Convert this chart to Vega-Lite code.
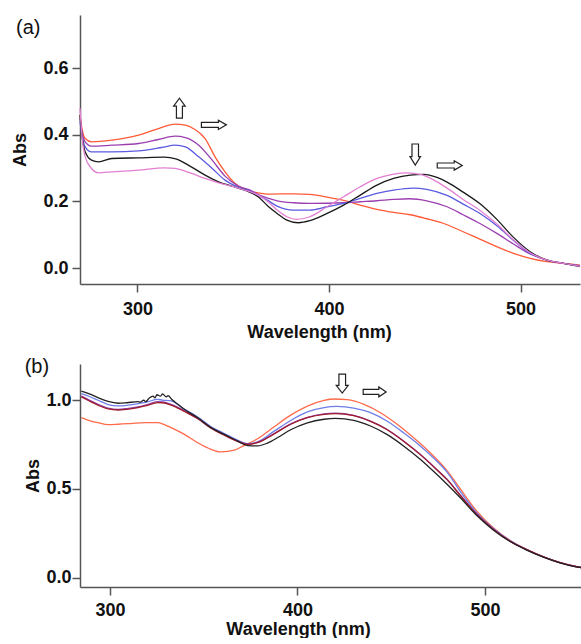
{
  "$schema": "https://vega.github.io/schema/vega-lite/v6.json",
  "background": "white",
  "padding": {"left": 11, "top": 15, "right": 0, "bottom": 0},
  "autosize": {"type": "pad"},
  "spacing": 16,
  "align": "none",
  "bounds": "full",
  "resolve": {"scale": {"x": "independent", "y": "independent", "color": "independent"}},
  "datasets": {
    "a": [
      {"series": "orange", "nm": 270, "abs": 0.46}, {"series": "orange", "nm": 271, "abs": 0.42}, {"series": "orange", "nm": 272.7, "abs": 0.389}, {"series": "orange", "nm": 276, "abs": 0.379}, {"series": "orange", "nm": 286.6, "abs": 0.384}, {"series": "orange", "nm": 300.5, "abs": 0.399}, {"series": "orange", "nm": 311, "abs": 0.419}, {"series": "orange", "nm": 319.7, "abs": 0.432}, {"series": "orange", "nm": 325, "abs": 0.429}, {"series": "orange", "nm": 330, "abs": 0.416}, {"series": "orange", "nm": 335.3, "abs": 0.389}, {"series": "orange", "nm": 340.5, "abs": 0.334}, {"series": "orange", "nm": 345.7, "abs": 0.289}, {"series": "orange", "nm": 351, "abs": 0.254}, {"series": "orange", "nm": 356, "abs": 0.236}, {"series": "orange", "nm": 363, "abs": 0.226}, {"series": "orange", "nm": 368, "abs": 0.222}, {"series": "orange", "nm": 381.5, "abs": 0.223}, {"series": "orange", "nm": 390, "abs": 0.221}, {"series": "orange", "nm": 399, "abs": 0.213}, {"series": "orange", "nm": 407.6, "abs": 0.203}, {"series": "orange", "nm": 416.3, "abs": 0.189}, {"series": "orange", "nm": 425, "abs": 0.176}, {"series": "orange", "nm": 433.7, "abs": 0.167}, {"series": "orange", "nm": 442.4, "abs": 0.16}, {"series": "orange", "nm": 451, "abs": 0.148}, {"series": "orange", "nm": 461.6, "abs": 0.13}, {"series": "orange", "nm": 470, "abs": 0.109}, {"series": "orange", "nm": 479, "abs": 0.086}, {"series": "orange", "nm": 487.6, "abs": 0.064}, {"series": "orange", "nm": 496.3, "abs": 0.044}, {"series": "orange", "nm": 505, "abs": 0.029}, {"series": "orange", "nm": 513.7, "abs": 0.019}, {"series": "orange", "nm": 522.4, "abs": 0.014}, {"series": "orange", "nm": 531, "abs": 0.009},
      {"series": "purple", "nm": 270, "abs": 0.45}, {"series": "purple", "nm": 271, "abs": 0.41}, {"series": "purple", "nm": 272.7, "abs": 0.379}, {"series": "purple", "nm": 276, "abs": 0.366}, {"series": "purple", "nm": 286.6, "abs": 0.369}, {"series": "purple", "nm": 300.5, "abs": 0.374}, {"series": "purple", "nm": 311, "abs": 0.386}, {"series": "purple", "nm": 319.7, "abs": 0.396}, {"series": "purple", "nm": 325, "abs": 0.392}, {"series": "purple", "nm": 332, "abs": 0.369}, {"series": "purple", "nm": 339, "abs": 0.324}, {"series": "purple", "nm": 345.7, "abs": 0.276}, {"series": "purple", "nm": 352.7, "abs": 0.246}, {"series": "purple", "nm": 359.6, "abs": 0.232}, {"series": "purple", "nm": 364, "abs": 0.218}, {"series": "purple", "nm": 368, "abs": 0.21}, {"series": "purple", "nm": 372.9, "abs": 0.202}, {"series": "purple", "nm": 381.5, "abs": 0.196}, {"series": "purple", "nm": 390, "abs": 0.194}, {"series": "purple", "nm": 407.6, "abs": 0.196}, {"series": "purple", "nm": 416.3, "abs": 0.199}, {"series": "purple", "nm": 425, "abs": 0.202}, {"series": "purple", "nm": 433.7, "abs": 0.206}, {"series": "purple", "nm": 442, "abs": 0.208}, {"series": "purple", "nm": 451, "abs": 0.202}, {"series": "purple", "nm": 461.6, "abs": 0.184}, {"series": "purple", "nm": 470, "abs": 0.16}, {"series": "purple", "nm": 479, "abs": 0.133}, {"series": "purple", "nm": 487.6, "abs": 0.104}, {"series": "purple", "nm": 496.3, "abs": 0.072}, {"series": "purple", "nm": 505, "abs": 0.042}, {"series": "purple", "nm": 513.7, "abs": 0.024}, {"series": "purple", "nm": 522.4, "abs": 0.014}, {"series": "purple", "nm": 531, "abs": 0.007},
      {"series": "blue", "nm": 270, "abs": 0.44}, {"series": "blue", "nm": 271, "abs": 0.4}, {"series": "blue", "nm": 272.7, "abs": 0.364}, {"series": "blue", "nm": 276, "abs": 0.349}, {"series": "blue", "nm": 286.6, "abs": 0.349}, {"series": "blue", "nm": 300.5, "abs": 0.352}, {"series": "blue", "nm": 312.6, "abs": 0.362}, {"series": "blue", "nm": 319.7, "abs": 0.369}, {"series": "blue", "nm": 325, "abs": 0.364}, {"series": "blue", "nm": 332, "abs": 0.334}, {"series": "blue", "nm": 339, "abs": 0.299}, {"series": "blue", "nm": 345.7, "abs": 0.264}, {"series": "blue", "nm": 352.7, "abs": 0.242}, {"series": "blue", "nm": 359.6, "abs": 0.229}, {"series": "blue", "nm": 364, "abs": 0.215}, {"series": "blue", "nm": 368, "abs": 0.203}, {"series": "blue", "nm": 372.9, "abs": 0.186}, {"series": "blue", "nm": 381.5, "abs": 0.174}, {"series": "blue", "nm": 390, "abs": 0.174}, {"series": "blue", "nm": 399, "abs": 0.184}, {"series": "blue", "nm": 407.6, "abs": 0.194}, {"series": "blue", "nm": 416.3, "abs": 0.209}, {"series": "blue", "nm": 425, "abs": 0.224}, {"series": "blue", "nm": 433.7, "abs": 0.234}, {"series": "blue", "nm": 444, "abs": 0.24}, {"series": "blue", "nm": 451, "abs": 0.236}, {"series": "blue", "nm": 461.6, "abs": 0.218}, {"series": "blue", "nm": 470, "abs": 0.192}, {"series": "blue", "nm": 479, "abs": 0.163}, {"series": "blue", "nm": 487.6, "abs": 0.127}, {"series": "blue", "nm": 496.3, "abs": 0.083}, {"series": "blue", "nm": 505, "abs": 0.044}, {"series": "blue", "nm": 513.7, "abs": 0.024}, {"series": "blue", "nm": 522.4, "abs": 0.014}, {"series": "blue", "nm": 531, "abs": 0.006},
      {"series": "black", "nm": 270, "abs": 0.46}, {"series": "black", "nm": 271, "abs": 0.4}, {"series": "black", "nm": 272.7, "abs": 0.349}, {"series": "black", "nm": 276, "abs": 0.324}, {"series": "black", "nm": 279.7, "abs": 0.319}, {"series": "black", "nm": 286.6, "abs": 0.329}, {"series": "black", "nm": 300.5, "abs": 0.331}, {"series": "black", "nm": 314, "abs": 0.333}, {"series": "black", "nm": 320, "abs": 0.328}, {"series": "black", "nm": 328.3, "abs": 0.303}, {"series": "black", "nm": 335.3, "abs": 0.279}, {"series": "black", "nm": 342.3, "abs": 0.259}, {"series": "black", "nm": 349.2, "abs": 0.246}, {"series": "black", "nm": 356, "abs": 0.234}, {"series": "black", "nm": 363, "abs": 0.214}, {"series": "black", "nm": 368.3, "abs": 0.185}, {"series": "black", "nm": 372.9, "abs": 0.164}, {"series": "black", "nm": 378, "abs": 0.144}, {"series": "black", "nm": 384, "abs": 0.136}, {"series": "black", "nm": 390, "abs": 0.142}, {"series": "black", "nm": 399, "abs": 0.164}, {"series": "black", "nm": 407.6, "abs": 0.189}, {"series": "black", "nm": 416.3, "abs": 0.219}, {"series": "black", "nm": 425, "abs": 0.249}, {"series": "black", "nm": 433.7, "abs": 0.269}, {"series": "black", "nm": 442.4, "abs": 0.279}, {"series": "black", "nm": 449.3, "abs": 0.281}, {"series": "black", "nm": 456.3, "abs": 0.272}, {"series": "black", "nm": 461.6, "abs": 0.258}, {"series": "black", "nm": 470, "abs": 0.228}, {"series": "black", "nm": 479, "abs": 0.192}, {"series": "black", "nm": 487.6, "abs": 0.146}, {"series": "black", "nm": 496.3, "abs": 0.092}, {"series": "black", "nm": 505, "abs": 0.049}, {"series": "black", "nm": 513.7, "abs": 0.024}, {"series": "black", "nm": 522.4, "abs": 0.014}, {"series": "black", "nm": 531, "abs": 0.004},
      {"series": "pink", "nm": 270, "abs": 0.48}, {"series": "pink", "nm": 271, "abs": 0.4}, {"series": "pink", "nm": 272.7, "abs": 0.334}, {"series": "pink", "nm": 276, "abs": 0.299}, {"series": "pink", "nm": 279.7, "abs": 0.286}, {"series": "pink", "nm": 286.6, "abs": 0.289}, {"series": "pink", "nm": 300.5, "abs": 0.294}, {"series": "pink", "nm": 314, "abs": 0.301}, {"series": "pink", "nm": 319.7, "abs": 0.299}, {"series": "pink", "nm": 328.3, "abs": 0.284}, {"series": "pink", "nm": 335.3, "abs": 0.269}, {"series": "pink", "nm": 342.3, "abs": 0.256}, {"series": "pink", "nm": 349.2, "abs": 0.246}, {"series": "pink", "nm": 356, "abs": 0.234}, {"series": "pink", "nm": 363, "abs": 0.219}, {"series": "pink", "nm": 368, "abs": 0.2}, {"series": "pink", "nm": 372.9, "abs": 0.174}, {"series": "pink", "nm": 378, "abs": 0.154}, {"series": "pink", "nm": 383, "abs": 0.146}, {"series": "pink", "nm": 390, "abs": 0.154}, {"series": "pink", "nm": 399, "abs": 0.184}, {"series": "pink", "nm": 407.6, "abs": 0.214}, {"series": "pink", "nm": 416.3, "abs": 0.244}, {"series": "pink", "nm": 425, "abs": 0.269}, {"series": "pink", "nm": 433.7, "abs": 0.282}, {"series": "pink", "nm": 440.6, "abs": 0.286}, {"series": "pink", "nm": 447.6, "abs": 0.281}, {"series": "pink", "nm": 454.5, "abs": 0.265}, {"series": "pink", "nm": 461.6, "abs": 0.24}, {"series": "pink", "nm": 470, "abs": 0.206}, {"series": "pink", "nm": 479, "abs": 0.172}, {"series": "pink", "nm": 487.6, "abs": 0.132}, {"series": "pink", "nm": 496.3, "abs": 0.084}, {"series": "pink", "nm": 505, "abs": 0.046}, {"series": "pink", "nm": 513.7, "abs": 0.024}, {"series": "pink", "nm": 522.4, "abs": 0.014}, {"series": "pink", "nm": 531, "abs": 0.005}
    ],
    "b": [
      {"series": "orange", "nm": 284.7, "abs": 0.901}, {"series": "orange", "nm": 289, "abs": 0.885}, {"series": "orange", "nm": 293.6, "abs": 0.873}, {"series": "orange", "nm": 299, "abs": 0.862}, {"series": "orange", "nm": 304.3, "abs": 0.864}, {"series": "orange", "nm": 311, "abs": 0.868}, {"series": "orange", "nm": 318.4, "abs": 0.873}, {"series": "orange", "nm": 325.3, "abs": 0.873}, {"series": "orange", "nm": 329, "abs": 0.862}, {"series": "orange", "nm": 332.6, "abs": 0.845}, {"series": "orange", "nm": 339.7, "abs": 0.807}, {"series": "orange", "nm": 346.8, "abs": 0.76}, {"series": "orange", "nm": 353.9, "abs": 0.723}, {"series": "orange", "nm": 359.2, "abs": 0.708}, {"series": "orange", "nm": 366.3, "abs": 0.718}, {"series": "orange", "nm": 371.7, "abs": 0.745}, {"series": "orange", "nm": 378.7, "abs": 0.782}, {"series": "orange", "nm": 387.6, "abs": 0.85}, {"series": "orange", "nm": 396.4, "abs": 0.915}, {"series": "orange", "nm": 405.3, "abs": 0.966}, {"series": "orange", "nm": 414.2, "abs": 0.998}, {"series": "orange", "nm": 419.5, "abs": 1.006}, {"series": "orange", "nm": 426.6, "abs": 1.002}, {"series": "orange", "nm": 435.5, "abs": 0.976}, {"series": "orange", "nm": 444.3, "abs": 0.929}, {"series": "orange", "nm": 453.2, "abs": 0.864}, {"series": "orange", "nm": 462, "abs": 0.788}, {"series": "orange", "nm": 471, "abs": 0.702}, {"series": "orange", "nm": 479.8, "abs": 0.603}, {"series": "orange", "nm": 486.9, "abs": 0.5}, {"series": "orange", "nm": 495.7, "abs": 0.375}, {"series": "orange", "nm": 504.6, "abs": 0.28}, {"series": "orange", "nm": 513.5, "abs": 0.21}, {"series": "orange", "nm": 522.3, "abs": 0.16}, {"series": "orange", "nm": 531.2, "abs": 0.118}, {"series": "orange", "nm": 540, "abs": 0.086}, {"series": "orange", "nm": 548.9, "abs": 0.063}, {"series": "orange", "nm": 555, "abs": 0.053},
      {"series": "blue", "nm": 284.7, "abs": 1.036}, {"series": "blue", "nm": 289, "abs": 1.02}, {"series": "blue", "nm": 293.6, "abs": 0.999}, {"series": "blue", "nm": 299, "abs": 0.975}, {"series": "blue", "nm": 304.3, "abs": 0.967}, {"series": "blue", "nm": 309, "abs": 0.97}, {"series": "blue", "nm": 314.9, "abs": 0.98}, {"series": "blue", "nm": 320, "abs": 0.99}, {"series": "blue", "nm": 325.3, "abs": 1.004}, {"series": "blue", "nm": 328, "abs": 1.0}, {"series": "blue", "nm": 332.6, "abs": 0.995}, {"series": "blue", "nm": 339.7, "abs": 0.948}, {"series": "blue", "nm": 346.8, "abs": 0.905}, {"series": "blue", "nm": 353.9, "abs": 0.85}, {"series": "blue", "nm": 361, "abs": 0.812}, {"series": "blue", "nm": 368, "abs": 0.775}, {"series": "blue", "nm": 373.4, "abs": 0.755}, {"series": "blue", "nm": 378.7, "abs": 0.765}, {"series": "blue", "nm": 387.6, "abs": 0.825}, {"series": "blue", "nm": 396.4, "abs": 0.885}, {"series": "blue", "nm": 405.3, "abs": 0.933}, {"series": "blue", "nm": 414.2, "abs": 0.958}, {"series": "blue", "nm": 421, "abs": 0.964}, {"series": "blue", "nm": 430, "abs": 0.955}, {"series": "blue", "nm": 439, "abs": 0.929}, {"series": "blue", "nm": 447.7, "abs": 0.882}, {"series": "blue", "nm": 456.6, "abs": 0.816}, {"series": "blue", "nm": 465.5, "abs": 0.742}, {"series": "blue", "nm": 474.3, "abs": 0.657}, {"series": "blue", "nm": 479.8, "abs": 0.595}, {"series": "blue", "nm": 486.9, "abs": 0.485}, {"series": "blue", "nm": 495.7, "abs": 0.365}, {"series": "blue", "nm": 504.6, "abs": 0.277}, {"series": "blue", "nm": 513.5, "abs": 0.208}, {"series": "blue", "nm": 522.3, "abs": 0.159}, {"series": "blue", "nm": 531.2, "abs": 0.117}, {"series": "blue", "nm": 540, "abs": 0.085}, {"series": "blue", "nm": 548.9, "abs": 0.062}, {"series": "blue", "nm": 555, "abs": 0.052},
      {"series": "purple", "nm": 284.7, "abs": 1.023}, {"series": "purple", "nm": 289, "abs": 1.0}, {"series": "purple", "nm": 293.6, "abs": 0.976}, {"series": "purple", "nm": 299, "abs": 0.955}, {"series": "purple", "nm": 304.3, "abs": 0.948}, {"series": "purple", "nm": 309, "abs": 0.952}, {"series": "purple", "nm": 314.9, "abs": 0.961}, {"series": "purple", "nm": 320, "abs": 0.975}, {"series": "purple", "nm": 325.3, "abs": 0.991}, {"series": "purple", "nm": 328, "abs": 0.99}, {"series": "purple", "nm": 332.6, "abs": 0.976}, {"series": "purple", "nm": 339.7, "abs": 0.94}, {"series": "purple", "nm": 346.8, "abs": 0.898}, {"series": "purple", "nm": 353.9, "abs": 0.845}, {"series": "purple", "nm": 361, "abs": 0.805}, {"series": "purple", "nm": 368, "abs": 0.77}, {"series": "purple", "nm": 373.4, "abs": 0.752}, {"series": "purple", "nm": 378.7, "abs": 0.762}, {"series": "purple", "nm": 387.6, "abs": 0.812}, {"series": "purple", "nm": 396.4, "abs": 0.866}, {"series": "purple", "nm": 405.3, "abs": 0.903}, {"series": "purple", "nm": 414.2, "abs": 0.922}, {"series": "purple", "nm": 420.3, "abs": 0.926}, {"series": "purple", "nm": 430, "abs": 0.914}, {"series": "purple", "nm": 439, "abs": 0.882}, {"series": "purple", "nm": 447.7, "abs": 0.836}, {"series": "purple", "nm": 456.6, "abs": 0.77}, {"series": "purple", "nm": 465.5, "abs": 0.695}, {"series": "purple", "nm": 474.3, "abs": 0.61}, {"series": "purple", "nm": 479.8, "abs": 0.554}, {"series": "purple", "nm": 486.9, "abs": 0.465}, {"series": "purple", "nm": 495.7, "abs": 0.357}, {"series": "purple", "nm": 504.6, "abs": 0.273}, {"series": "purple", "nm": 513.5, "abs": 0.206}, {"series": "purple", "nm": 522.3, "abs": 0.158}, {"series": "purple", "nm": 531.2, "abs": 0.117}, {"series": "purple", "nm": 540, "abs": 0.085}, {"series": "purple", "nm": 548.9, "abs": 0.062}, {"series": "purple", "nm": 555, "abs": 0.052},
      {"series": "darkred", "nm": 284.7, "abs": 1.018}, {"series": "darkred", "nm": 289, "abs": 0.995}, {"series": "darkred", "nm": 293.6, "abs": 0.972}, {"series": "darkred", "nm": 299, "abs": 0.95}, {"series": "darkred", "nm": 304.3, "abs": 0.944}, {"series": "darkred", "nm": 309, "abs": 0.948}, {"series": "darkred", "nm": 314.9, "abs": 0.958}, {"series": "darkred", "nm": 320, "abs": 0.97}, {"series": "darkred", "nm": 325.3, "abs": 0.986}, {"series": "darkred", "nm": 328, "abs": 0.985}, {"series": "darkred", "nm": 332.6, "abs": 0.972}, {"series": "darkred", "nm": 339.7, "abs": 0.936}, {"series": "darkred", "nm": 346.8, "abs": 0.895}, {"series": "darkred", "nm": 353.9, "abs": 0.842}, {"series": "darkred", "nm": 361, "abs": 0.802}, {"series": "darkred", "nm": 368, "abs": 0.768}, {"series": "darkred", "nm": 373.4, "abs": 0.75}, {"series": "darkred", "nm": 378.7, "abs": 0.76}, {"series": "darkred", "nm": 387.6, "abs": 0.81}, {"series": "darkred", "nm": 396.4, "abs": 0.864}, {"series": "darkred", "nm": 405.3, "abs": 0.901}, {"series": "darkred", "nm": 414.2, "abs": 0.92}, {"series": "darkred", "nm": 420.3, "abs": 0.924}, {"series": "darkred", "nm": 430, "abs": 0.912}, {"series": "darkred", "nm": 439, "abs": 0.88}, {"series": "darkred", "nm": 447.7, "abs": 0.834}, {"series": "darkred", "nm": 456.6, "abs": 0.768}, {"series": "darkred", "nm": 465.5, "abs": 0.693}, {"series": "darkred", "nm": 474.3, "abs": 0.608}, {"series": "darkred", "nm": 479.8, "abs": 0.552}, {"series": "darkred", "nm": 486.9, "abs": 0.463}, {"series": "darkred", "nm": 495.7, "abs": 0.356}, {"series": "darkred", "nm": 504.6, "abs": 0.272}, {"series": "darkred", "nm": 513.5, "abs": 0.205}, {"series": "darkred", "nm": 522.3, "abs": 0.158}, {"series": "darkred", "nm": 531.2, "abs": 0.117}, {"series": "darkred", "nm": 540, "abs": 0.085}, {"series": "darkred", "nm": 548.9, "abs": 0.062}, {"series": "darkred", "nm": 555, "abs": 0.052},
      {"series": "black", "nm": 284.7, "abs": 1.051}, {"series": "black", "nm": 289, "abs": 1.035}, {"series": "black", "nm": 293.6, "abs": 1.014}, {"series": "black", "nm": 299, "abs": 0.992}, {"series": "black", "nm": 304.3, "abs": 0.982}, {"series": "black", "nm": 309, "abs": 0.985}, {"series": "black", "nm": 314.9, "abs": 0.991}, {"series": "black", "nm": 316, "abs": 0.988}, {"series": "black", "nm": 318, "abs": 1.0}, {"series": "black", "nm": 319, "abs": 0.99}, {"series": "black", "nm": 321, "abs": 1.012}, {"series": "black", "nm": 323, "abs": 1.022}, {"series": "black", "nm": 324, "abs": 1.012}, {"series": "black", "nm": 325, "abs": 1.03}, {"series": "black", "nm": 327, "abs": 1.022}, {"series": "black", "nm": 328, "abs": 1.035}, {"series": "black", "nm": 330, "abs": 1.018}, {"series": "black", "nm": 331, "abs": 1.025}, {"series": "black", "nm": 333, "abs": 1.003}, {"series": "black", "nm": 336, "abs": 0.978}, {"series": "black", "nm": 339.7, "abs": 0.948}, {"series": "black", "nm": 346.8, "abs": 0.901}, {"series": "black", "nm": 353.9, "abs": 0.845}, {"series": "black", "nm": 361, "abs": 0.807}, {"series": "black", "nm": 368, "abs": 0.77}, {"series": "black", "nm": 373.4, "abs": 0.744}, {"series": "black", "nm": 378.7, "abs": 0.742}, {"series": "black", "nm": 384, "abs": 0.758}, {"series": "black", "nm": 390, "abs": 0.792}, {"series": "black", "nm": 396.4, "abs": 0.833}, {"series": "black", "nm": 405.3, "abs": 0.872}, {"series": "black", "nm": 414.2, "abs": 0.892}, {"series": "black", "nm": 420.3, "abs": 0.897}, {"series": "black", "nm": 430, "abs": 0.886}, {"series": "black", "nm": 439, "abs": 0.854}, {"series": "black", "nm": 447.7, "abs": 0.807}, {"series": "black", "nm": 456.6, "abs": 0.742}, {"series": "black", "nm": 465.5, "abs": 0.667}, {"series": "black", "nm": 474.3, "abs": 0.582}, {"series": "black", "nm": 479.8, "abs": 0.526}, {"series": "black", "nm": 486.9, "abs": 0.45}, {"series": "black", "nm": 495.7, "abs": 0.35}, {"series": "black", "nm": 504.6, "abs": 0.268}, {"series": "black", "nm": 513.5, "abs": 0.204}, {"series": "black", "nm": 522.3, "abs": 0.156}, {"series": "black", "nm": 531.2, "abs": 0.116}, {"series": "black", "nm": 540, "abs": 0.084}, {"series": "black", "nm": 548.9, "abs": 0.061}, {"series": "black", "nm": 555, "abs": 0.051}
    ],
    "arrowsA": [
      {"dir": "up", "nm": 321.9, "abs": 0.48},
      {"dir": "right", "nm": 339.9, "abs": 0.43},
      {"dir": "down", "nm": 445, "abs": 0.341},
      {"dir": "right", "nm": 463, "abs": 0.308}
    ],
    "arrowsB": [
      {"dir": "down", "nm": 423.9, "abs": 1.093},
      {"dir": "right", "nm": 441.2, "abs": 1.046}
    ],
    "labelA": [{"label": "(a)", "nm": 243, "abs": 0.722}],
    "labelB": [{"label": "(b)", "nm": 261, "abs": 1.186}]
  },
  "vconcat": [
    {
      "width": 500,
      "height": 269,
      "layer": [
        {
          "data": {"name": "a"},
          "mark": {"type": "line", "strokeWidth": 1.3, "interpolate": "monotone"},
          "encoding": {
            "x": {"field": "nm", "type": "quantitative", "scale": {"domain": [270, 531], "nice": false, "zero": false},
                  "axis": {"values": [300, 400, 500], "title": "Wavelength (nm)", "labelPadding": 8, "titlePadding": 5, "titleX": 239}},
            "y": {"field": "abs", "type": "quantitative", "scale": {"domain": [-0.048, 0.76], "nice": false, "zero": false},
                  "axis": {"values": [0, 0.2, 0.4, 0.6], "format": ".1f", "title": "Abs", "labelPadding": 4, "titlePadding": 13}},
            "color": {"field": "series", "type": "nominal", "legend": null,
                      "scale": {"domain": ["orange", "purple", "blue", "black", "pink"], "range": ["#ff5a36", "#9b3fb0", "#5b5be0", "#1a1a1a", "#e37fd2"]}}
          }
        },
        {
          "data": {"name": "arrowsA"},
          "transform": [{"filter": "datum.dir === 'up'"}],
          "mark": {"type": "point", "filled": false, "stroke": "#222", "strokeWidth": 1.2, "size": 400, "opacity": 1,
                   "shape": "M-0.3,1 L-0.3,-0.2 L-0.58,-0.2 L0,-1 L0.58,-0.2 L0.3,-0.2 L0.3,1 Z"},
          "encoding": {
            "x": {"field": "nm", "type": "quantitative", "scale": {"domain": [270, 531], "nice": false, "zero": false}},
            "y": {"field": "abs", "type": "quantitative", "scale": {"domain": [-0.048, 0.76], "nice": false, "zero": false}}
          }
        },
        {
          "data": {"name": "arrowsA"},
          "transform": [{"filter": "datum.dir === 'down'"}],
          "mark": {"type": "point", "filled": false, "stroke": "#222", "strokeWidth": 1.2, "size": 441, "opacity": 1,
                   "shape": "M-0.31,-1 L-0.31,0.2 L-0.5,0.2 L0,1 L0.5,0.2 L0.31,0.2 L0.31,-1 Z"},
          "encoding": {
            "x": {"field": "nm", "type": "quantitative", "scale": {"domain": [270, 531], "nice": false, "zero": false}},
            "y": {"field": "abs", "type": "quantitative", "scale": {"domain": [-0.048, 0.76], "nice": false, "zero": false}}
          }
        },
        {
          "data": {"name": "arrowsA"},
          "transform": [{"filter": "datum.dir === 'right'"}],
          "mark": {"type": "point", "filled": false, "stroke": "#222", "strokeWidth": 1.2, "size": 625, "opacity": 1,
                   "shape": "M-1,-0.2 L0.36,-0.2 L0.36,-0.37 L1,0 L0.36,0.37 L0.36,0.2 L-1,0.2 Z"},
          "encoding": {
            "x": {"field": "nm", "type": "quantitative", "scale": {"domain": [270, 531], "nice": false, "zero": false}},
            "y": {"field": "abs", "type": "quantitative", "scale": {"domain": [-0.048, 0.76], "nice": false, "zero": false}}
          }
        },
        {
          "data": {"name": "labelA"},
          "mark": {"type": "text", "font": "Liberation Sans", "fontSize": 20, "color": "#111", "align": "center", "baseline": "middle"},
          "encoding": {
            "x": {"field": "nm", "type": "quantitative", "scale": {"domain": [270, 531], "nice": false, "zero": false}},
            "y": {"field": "abs", "type": "quantitative", "scale": {"domain": [-0.048, 0.76], "nice": false, "zero": false}},
            "text": {"field": "label", "type": "nominal"}
          }
        }
      ]
    },
    {
      "width": 508,
      "height": 223,
      "layer": [
        {
          "data": {"name": "b"},
          "mark": {"type": "line", "strokeWidth": 1.3, "interpolate": "monotone"},
          "encoding": {
            "x": {"field": "nm", "type": "quantitative", "scale": {"domain": [284, 555], "nice": false, "zero": false},
                  "axis": {"values": [300, 400, 500], "title": "Wavelength (nm)", "labelPadding": 6, "titlePadding": 1, "titleX": 218}},
            "y": {"field": "abs", "type": "quantitative", "scale": {"domain": [-0.052, 1.203], "nice": false, "zero": false},
                  "axis": {"values": [0, 0.5, 1.0], "format": ".1f", "title": "Abs", "labelPadding": 1, "titlePadding": 3}},
            "color": {"field": "series", "type": "nominal", "legend": null,
                      "scale": {"domain": ["orange", "blue", "purple", "darkred", "black"], "range": ["#ff6a4a", "#6f7de8", "#8e44ad", "#a01c2c", "#222222"]}}
          }
        },
        {
          "data": {"name": "arrowsB"},
          "transform": [{"filter": "datum.dir === 'down'"}],
          "mark": {"type": "point", "filled": false, "stroke": "#222", "strokeWidth": 1.2, "size": 361, "opacity": 1,
                   "shape": "M-0.35,-1 L-0.35,0.2 L-0.63,0.2 L0,1 L0.63,0.2 L0.35,0.2 L0.35,-1 Z"},
          "encoding": {
            "x": {"field": "nm", "type": "quantitative", "scale": {"domain": [284, 555], "nice": false, "zero": false}},
            "y": {"field": "abs", "type": "quantitative", "scale": {"domain": [-0.052, 1.203], "nice": false, "zero": false}}
          }
        },
        {
          "data": {"name": "arrowsB"},
          "transform": [{"filter": "datum.dir === 'right'"}],
          "mark": {"type": "point", "filled": false, "stroke": "#222", "strokeWidth": 1.2, "size": 529, "opacity": 1,
                   "shape": "M-1,-0.22 L0.36,-0.22 L0.36,-0.43 L1,0 L0.36,0.43 L0.36,0.22 L-1,0.22 Z"},
          "encoding": {
            "x": {"field": "nm", "type": "quantitative", "scale": {"domain": [284, 555], "nice": false, "zero": false}},
            "y": {"field": "abs", "type": "quantitative", "scale": {"domain": [-0.052, 1.203], "nice": false, "zero": false}}
          }
        },
        {
          "data": {"name": "labelB"},
          "mark": {"type": "text", "font": "Liberation Sans", "fontSize": 20, "color": "#111", "align": "center", "baseline": "middle"},
          "encoding": {
            "x": {"field": "nm", "type": "quantitative", "scale": {"domain": [284, 555], "nice": false, "zero": false}},
            "y": {"field": "abs", "type": "quantitative", "scale": {"domain": [-0.052, 1.203], "nice": false, "zero": false}},
            "text": {"field": "label", "type": "nominal"}
          }
        }
      ]
    }
  ],
  "config": {
    "font": "Liberation Sans",
    "view": {"stroke": null},
    "axis": {
      "grid": false,
      "domainColor": "#555555",
      "tickColor": "#555555",
      "domainWidth": 1.5,
      "tickWidth": 1.5,
      "tickSize": 8,
      "labelFont": "Liberation Sans",
      "labelFontSize": 18,
      "labelFontWeight": "bold",
      "labelColor": "#111111",
      "titleFont": "Liberation Sans",
      "titleFontSize": 18,
      "titleFontWeight": "bold",
      "titleColor": "#111111",
      "labelFlush": false
    }
  }
}
